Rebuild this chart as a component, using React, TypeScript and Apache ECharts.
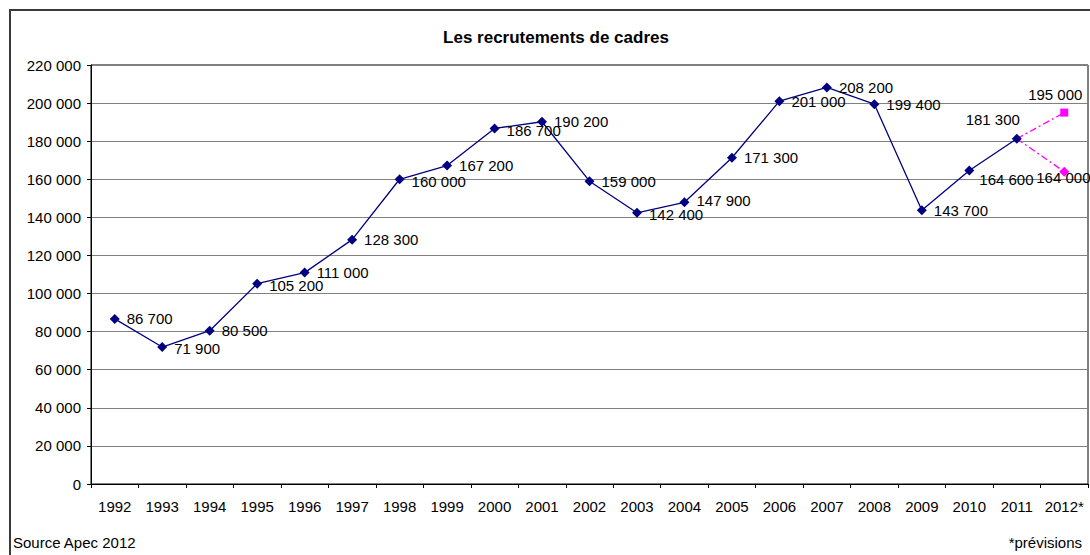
import { useEffect, useRef } from "react";
import * as echarts from "echarts";

const years = [
  "1992", "1993", "1994", "1995", "1996", "1997", "1998", "1999", "2000", "2001",
  "2002", "2003", "2004", "2005", "2006", "2007", "2008", "2009", "2010", "2011", "2012*",
];
const recruitments = [
  86700, 71900, 80500, 105200, 111000, 128300, 160000, 167200, 186700, 190200,
  159000, 142400, 147900, 171300, 201000, 208200, 199400, 143700, 164600, 181300,
];
const forecastHigh = 195000;
const forecastLow = 164000;
const titleText = "Les recrutements de cadres";
const sourceText = "Source Apec 2012";
const noteText = "*prévisions";

const FONT = "'Liberation Sans', Arial, sans-serif";

function fmt(v: number): string {
  return String(v).replace(/\B(?=(\d{3})+(?!\d))/g, " ");
}

// per-point label tweaks (style only)
const labelTweaks: Record<number, any> = {
  1: { offset: [0, 1] },
  3: { offset: [0, 2] },
  6: { offset: [0, 2] },
  8: { offset: [0, 2] },
  11: { offset: [0, 2] },
  12: { offset: [0, -2] },
  18: { offset: [-2, 9] },
  19: { position: "top", offset: [-24, 0] },
};

export default function App() {
  const ref = useRef<HTMLDivElement>(null);
  useEffect(() => {
    if (!ref.current) return;
    const chart = echarts.init(ref.current, undefined, { renderer: "svg" });

    const mainData = recruitments.map((v, i) => ({
      value: v,
      label: labelTweaks[i] ? { ...labelTweaks[i] } : undefined,
    }));
    const lastIdx = recruitments.length - 1;
    const lastVal = recruitments[lastIdx];
    const mkForecast = (val: number, symbol: string, size: number, label: any) => {
      const d: any[] = years.map(() => null);
      d[lastIdx] = { value: lastVal, symbol: "none", label: { show: false } };
      d[lastIdx + 1] = { value: val, symbol, symbolSize: size, label };
      return d;
    };

    chart.setOption({
      animation: false,
      textStyle: { fontFamily: FONT },
      grid: {
        left: 91,
        right: 2,
        top: 65,
        bottom: 71,
        show: true,
        borderColor: "#000",
        borderWidth: 1,
      },
      graphic: [
        {
          type: "rect",
          shape: { x: 10, y: 10, width: 1200, height: 700 },
          style: { fill: "none", stroke: "#3a3a3a", lineWidth: 2 },
          silent: true,
        },
        {
          type: "text",
          x: 556,
          y: 37,
          style: {
            text: titleText,
            font: `bold 17px ${FONT}`,
            fill: "#000",
            align: "center",
            verticalAlign: "middle",
          },
        },
        {
          type: "text",
          x: 13,
          y: 542,
          style: {
            text: sourceText,
            font: `15px ${FONT}`,
            fill: "#000",
            align: "left",
            verticalAlign: "middle",
          },
        },
        {
          type: "text",
          x: 1082,
          y: 542,
          style: {
            text: noteText,
            font: `15px ${FONT}`,
            fill: "#000",
            align: "right",
            verticalAlign: "middle",
          },
        },
      ],
      xAxis: {
        type: "category",
        data: years,
        boundaryGap: true,
        axisLine: { lineStyle: { color: "#000", width: 1 } },
        axisTick: { show: true, length: 4, lineStyle: { color: "#000" } },
        axisLabel: { color: "#000", fontSize: 15, margin: 15, fontFamily: FONT, interval: 0 },
        splitLine: { show: false },
      },
      yAxis: {
        type: "value",
        min: 0,
        max: 220000,
        interval: 20000,
        axisLine: { show: true, lineStyle: { color: "#000", width: 1 } },
        axisTick: { show: true, length: 4, lineStyle: { color: "#000" } },
        axisLabel: {
          color: "#000",
          fontSize: 15,
          margin: 10,
          fontFamily: FONT,
          formatter: (v: number) => fmt(v),
        },
        splitLine: { show: true, lineStyle: { color: "#808080", width: 1 } },
      },
      series: [
        {
          type: "line",
          data: mkForecast(forecastHigh, "rect", 8, {
            show: true,
            position: "top",
            offset: [-9, -2],
          }),
          connectNulls: false,
          lineStyle: { color: "#FF00FF", width: 1.3, type: [7, 3, 2, 3] },
          itemStyle: { color: "#FF00FF" },
          label: {
            color: "#000",
            fontSize: 15,
            fontFamily: FONT,
            formatter: (p: any) => fmt(p.value),
          },
          z: 1,
        },
        {
          type: "line",
          data: mkForecast(forecastLow, "diamond", 10, {
            show: true,
            position: "right",
            offset: [-38, 6],
          }),
          connectNulls: false,
          lineStyle: { color: "#FF00FF", width: 1.3, type: [7, 3, 2, 3] },
          itemStyle: { color: "#FF00FF" },
          label: {
            color: "#000",
            fontSize: 15,
            fontFamily: FONT,
            formatter: (p: any) => fmt(p.value),
          },
          z: 1,
        },
        {
          type: "line",
          data: mainData,
          symbol: "diamond",
          symbolSize: 10,
          lineStyle: { color: "#000080", width: 1.3 },
          itemStyle: { color: "#000080" },
          label: {
            show: true,
            position: "right",
            distance: 7,
            color: "#000",
            fontSize: 15,
            fontFamily: FONT,
            formatter: (p: any) => fmt(p.value),
          },
          z: 3,
        },
      ],
    });
    return () => chart.dispose();
  }, []);

  return (
    <div
      ref={ref}
      style={{ position: "fixed", left: 0, top: 0, width: 1090, height: 555, background: "#fff" }}
    />
  );
}
